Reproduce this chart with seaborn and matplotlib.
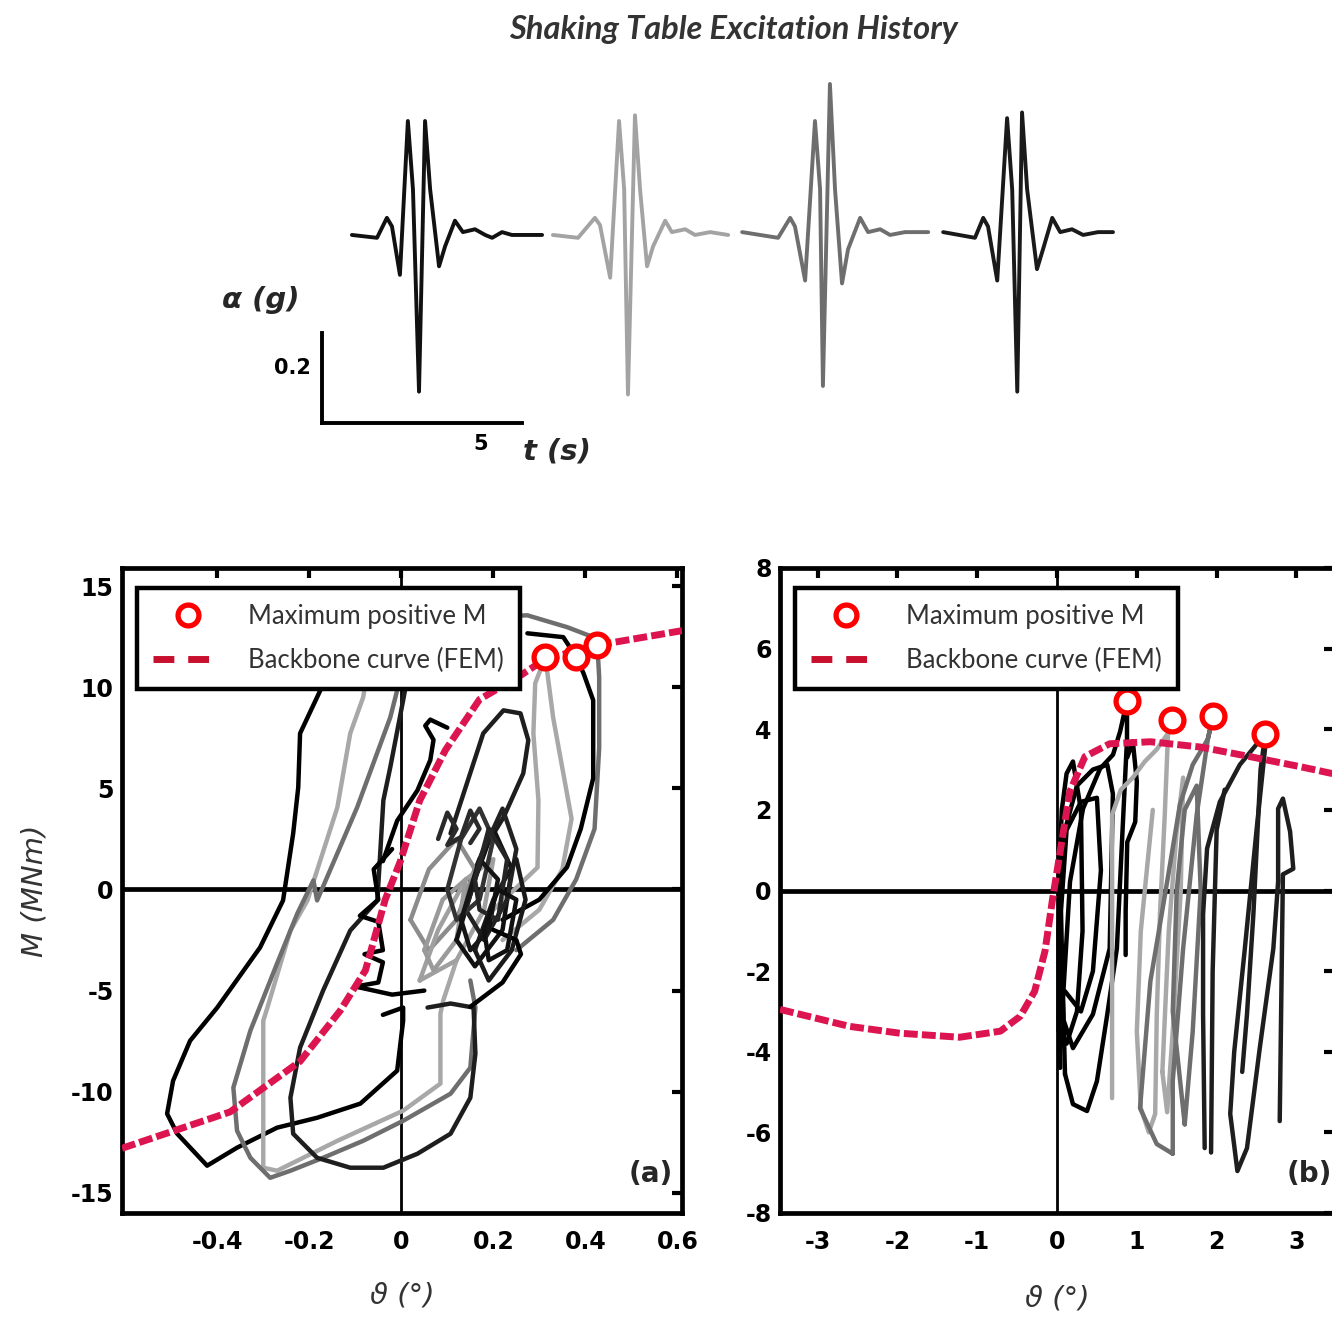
import matplotlib
matplotlib.use("Agg")
import matplotlib.pyplot as plt
import seaborn as sns
import pandas as pd
from matplotlib.lines import Line2D

sns.set_theme(style="white")
plt.rcParams["font.family"] = ["DejaVu Sans"]

# ---------------- data: shaking-table records (t in s, a in g, baseline-relative) -------------
rec1_t = [0.94, 1.73, 2.04, 2.20, 2.45, 2.70, 2.86, 3.05, 3.24, 3.40, 3.68, 3.87, 4.18, 4.43, 4.81, 5.13, 5.35, 5.66, 5.97, 6.38, 6.92]
rec1_a = [0.00, -0.01, 0.06, 0.03, -0.14, 0.40, 0.16, -0.55, 0.40, 0.16, -0.11, -0.04, 0.05, 0.01, 0.02, 0.00, -0.01, 0.01, 0.00, 0.00, 0.00]
rec2_t = [7.26, 8.05, 8.58, 8.74, 9.06, 9.34, 9.50, 9.62, 9.84, 10.00, 10.22, 10.41, 10.79, 11.00, 11.42, 11.73, 12.20, 12.77]
rec2_a = [0.00, -0.01, 0.06, 0.035, -0.15, 0.40, 0.16, -0.56, 0.42, 0.16, -0.11, -0.04, 0.05, 0.01, 0.02, 0.00, 0.01, 0.00]
rec3_t = [13.21, 14.34, 14.72, 14.87, 15.19, 15.50, 15.66, 15.75, 15.97, 16.13, 16.35, 16.54, 16.92, 17.17, 17.55, 17.86, 18.33, 19.06]
rec3_a = [0.01, -0.01, 0.06, 0.03, -0.16, 0.40, 0.16, -0.53, 0.53, 0.16, -0.17, -0.05, 0.06, 0.01, 0.02, 0.00, 0.01, 0.01]
rec4_t = [19.53, 20.53, 20.79, 20.94, 21.23, 21.54, 21.70, 21.86, 22.01, 22.17, 22.48, 22.67, 22.96, 23.21, 23.58, 23.93, 24.40, 24.87]
rec4_a = [0.01, -0.01, 0.06, 0.03, -0.16, 0.41, 0.16, -0.55, 0.43, 0.16, -0.12, -0.05, 0.06, 0.01, 0.02, 0.00, 0.01, 0.01]
rec_colors = ["#111111", "#a3a3a3", "#6e6e6e", "#1a1a1a"]

# ---------------- data: panel (a) moment-rotation loops (theta deg, M MNm) -------------
a1_th = [-0.13, -0.176, -0.220, -0.224, -0.235, -0.257, -0.307, -0.400, -0.459, -0.496, -0.509, -0.487, -0.422, -0.357, -0.270, -0.183, -0.089, -0.009, 0.004, 0.004, -0.04]
a1_M = [12.5, 9.85, 7.72, 5.05, 2.77, -0.54, -2.87, -5.84, -7.48, -9.46, -11.09, -12.08, -13.66, -12.77, -11.78, -11.29, -10.59, -8.96, -6.49, -5.84, -6.2]
a2_th = [0.0, -0.009, -0.024, -0.096, -0.183, -0.191, -0.226, -0.270, -0.328, -0.365, -0.357, -0.328, -0.285, -0.241, -0.170, -0.083, 0.004, 0.107, 0.150, 0.161, 0.15]
a2_M = [12.3, 9.85, 8.51, 4.06, -0.54, 0.45, -1.19, -3.66, -6.98, -9.80, -11.93, -13.27, -14.26, -13.91, -13.27, -12.43, -11.44, -10.10, -8.81, -5.84, -4.5]
a3_th = [-0.06, -0.083, -0.111, -0.139, -0.204, -0.241, -0.291, -0.300, -0.300, -0.270, -0.139, 0.004, 0.085, 0.085, 0.091, 0.12]
a3_M = [12.5, 9.5, 7.72, 4.06, -0.54, -2.03, -5.84, -6.49, -13.76, -13.91, -12.43, -10.94, -9.60, -6.14, -5.50, -3.5]
a4_th = [0.03, 0.004, -0.024, -0.039, -0.052, -0.111, -0.170, -0.220, -0.241, -0.235, -0.183, -0.111, -0.039, 0.035, 0.107, 0.150, 0.161, 0.157, 0.107, 0.057]
a4_M = [12.5, 9.36, 6.04, 4.41, -0.54, -2.03, -5.00, -7.82, -10.30, -12.08, -13.27, -13.76, -13.76, -13.07, -12.08, -10.30, -8.12, -5.84, -5.64, -5.84]
hook_th = [-0.04, -0.009, 0.035, 0.063, 0.07, 0.052, 0.063, 0.10]
hook_M = [1.4, 3.4, 4.9, 6.4, 7.4, 8.1, 8.4, 8.0]
stub_th = [-0.02, -0.06, -0.05, -0.09, -0.05, -0.04, -0.08, -0.04, -0.05, -0.10, -0.02, 0.05]
stub_M = [2.0, 1.0, -0.5, -1.3, -1.6, -3.0, -3.2, -3.6, -4.6, -4.8, -5.2, -5.0]
b1_th = [0.107, 0.178, 0.222, 0.259, 0.276, 0.265, 0.222, 0.178, 0.15]
b1_M = [2.77, 7.72, 8.86, 8.71, 7.38, 5.74, 3.56, 1.93, 0.45]
b2_th = [0.20, 0.296, 0.298, 0.287, 0.291, 0.313, 0.33, 0.35, 0.37, 0.35, 0.30, 0.22]
b2_M = [-1.0, 1.09, 4.41, 7.72, 10.2, 11.49, 8.5, 6.0, 3.5, 1.0, -1.0, -2.5]
b3_th = [0.01, 0.10, 0.274, 0.361, 0.417, 0.426, 0.43, 0.43, 0.42, 0.38, 0.33, 0.25]
b3_M = [12.9, 13.4, 13.56, 12.97, 12.48, 12.1, 10.5, 7.0, 3.0, 0.5, -1.5, -3.0]
b4_th = [0.274, 0.352, 0.38, 0.396, 0.417, 0.417, 0.39, 0.36, 0.30, 0.22]
b4_M = [12.67, 12.48, 11.5, 10.69, 9.36, 5.5, 3.0, 1.1, -0.5, -1.5]
c1_th = [0.02, 0.06, 0.12, 0.16, 0.12, 0.06, 0.02]
c1_M = [-1.5, 1.0, 2.5, 1.0, -1.5, -3.0, -1.5]
c2_th = [0.04, 0.08, 0.14, 0.20, 0.18, 0.12, 0.04]
c2_M = [-4.5, -2.0, 0.5, 1.5, -1.0, -3.5, -4.5]
c3_th = [0.12, 0.16, 0.20, 0.24, 0.22, 0.16, 0.12]
c3_M = [-2.5, 0.5, 3.0, 1.0, -2.0, -3.8, -2.5]
c4_th = [0.14, 0.18, 0.22, 0.25, 0.23, 0.18, 0.14]
c4_M = [-1.0, 2.0, 4.0, 2.0, -0.5, -2.5, -1.0]
c5_th = [0.10, 0.13, 0.17, 0.20, 0.17, 0.12, 0.10]
c5_M = [0.0, 2.5, 4.0, 2.5, -0.5, -1.5, 0.0]
c6_th = [0.16, 0.20, 0.25, 0.27, 0.24, 0.19, 0.16]
c6_M = [-3.0, -0.5, 1.5, -0.5, -3.0, -4.5, -3.0]
c7_th = [0.08, 0.10, 0.12, 0.10, 0.13, 0.15, 0.17, 0.15]
c7_M = [2.5, 3.8, 3.0, 2.2, 2.6, 3.9, 3.0, 2.3]
c8_th = [0.15, 0.22, 0.26, 0.25, 0.20]
c8_M = [-5.8, -4.6, -3.2, -2.5, -2.0]
c9_th = [0.13, 0.17, 0.21, 0.19, 0.15, 0.13]
c9_M = [-1.5, 1.5, 0.5, -2.0, -3.0, -1.5]
c10_th = [0.16, 0.19, 0.23, 0.21, 0.17, 0.16]
c10_M = [0.5, 3.0, 1.5, -1.5, -1.0, 0.5]
c11_th = [0.05, 0.09, 0.14, 0.12, 0.07, 0.05]
c11_M = [-3.0, -0.5, 0.5, -2.5, -4.0, -3.0]
c12_th = [0.18, 0.21, 0.25, 0.23, 0.19, 0.18]
c12_M = [-2.0, 0.0, -0.5, -3.0, -3.5, -2.0]

bb_a_th = [-0.607, -0.372, -0.22, -0.133, -0.078, -0.035, -0.002, 0.04, 0.096, 0.17, 0.26, 0.313, 0.43, 0.61]
bb_a_M = [-12.8, -11.0, -8.5, -6.0, -4.0, -0.5, 1.4, 4.4, 6.9, 9.4, 10.6, 11.4, 12.1, 12.8]
max_a_th = [0.313, 0.38, 0.426]
max_a_M = [11.5, 11.5, 12.1]

# ---------------- data: panel (b) -------------
bk1_th = [0.10, 0.075, 0.163, 0.326, 0.539, 0.702, 0.79, 0.877, 0.877, 0.81, 0.75, 0.63, 0.50, 0.376, 0.2, 0.10]
bk1_M = [-4.55, -2.67, 0.22, 2.03, 3.02, 3.37, 3.94, 4.70, 3.76, 1.04, -1.44, -3.07, -4.73, -5.47, -5.30, -4.55]
bk2_th = [0.04, 0.02, 0.10, 0.25, 0.45, 0.63, 0.70, 0.66, 0.45, 0.20, 0.08, 0.05, 0.12, 0.30, 0.50, 0.55, 0.45, 0.30, 0.10]
bk2_M = [-4.4, -1.0, 1.5, 2.6, 3.0, 3.12, 2.4, -1.44, -3.07, -3.91, -3.2, -0.5, 1.5, 2.2, 2.3, 0.5, -2.0, -3.0, -2.5]
bk3_th = [0.88, 0.95, 1.0, 0.98, 0.88, 0.86, 0.86]
bk3_M = [3.3, 3.7, 2.7, 1.7, 1.2, -0.5, -1.6]
bk4_th = [0.02, 0.03, 0.06, 0.12, 0.2, 0.3, 0.32, 0.25, 0.12, 0.05]
bk4_M = [-3.5, 0.5, 2.0, 2.9, 3.2, 2.0, -1.0, -3.0, -3.8, -3.5]
bl_th = [0.69, 0.69, 0.80, 0.95, 1.10, 1.25, 1.39, 1.44, 1.39, 1.35, 1.29, 1.25, 1.23, 1.15, 1.05, 1.00, 1.05, 1.15, 1.20]
bl_M = [-5.15, 1.88, 2.5, 2.8, 3.2, 3.5, 3.9, 4.23, 3.86, 1.88, -0.59, -3.07, -5.54, -6.0, -5.4, -3.5, -1.0, 1.0, 2.0]
bl2_th = [1.32, 1.40, 1.50, 1.58, 1.55, 1.45, 1.38, 1.32]
bl2_M = [-4.5, -1.0, 1.5, 2.8, 0.0, -3.5, -5.5, -4.5]
bm1_th = [1.45, 1.25, 1.04, 1.17, 1.38, 1.54, 1.70, 1.89, 1.955, 1.89, 1.75, 1.58, 1.45, 1.45]
bm1_M = [-6.53, -6.29, -5.40, -2.25, 0.22, 2.13, 3.12, 3.76, 4.33, 3.76, 1.88, -1.44, -4.73, -6.53]
bm2_th = [1.60, 1.45, 1.50, 1.60, 1.75, 1.80, 1.70, 1.60]
bm2_M = [-5.8, -3.0, 0.0, 2.0, 2.6, 0.0, -3.5, -5.8]
bd1_th = [1.85, 1.83, 1.83, 1.88, 2.04, 2.29, 2.61, 2.55, 2.46, 2.38, 2.32]
bd1_M = [-6.39, -3.07, -0.59, 1.04, 2.2, 3.12, 3.89, 3.0, -0.59, -3.07, -4.5]
bd2_th = [2.61, 2.50, 2.35, 2.22, 2.17, 2.26, 2.38, 2.54, 2.71, 2.77, 2.77, 2.83, 2.92, 2.96, 2.83, 2.79]
bd2_M = [3.6, 1.5, -1.5, -4.0, -5.54, -6.96, -6.39, -3.91, -1.44, 0.22, 2.03, 2.28, 1.46, 0.54, 0.4, -5.72]
bd3_th = [1.93, 1.95, 2.00, 2.10]
bd3_M = [-6.5, -2.0, 1.5, 2.5]

bb_b_th = [-3.47, -2.6, -1.97, -1.22, -0.71, -0.46, -0.28, -0.15, -0.06, 0.04, 0.16, 0.35, 0.66, 1.17, 1.79, 2.42, 3.05, 3.45]
bb_b_M = [-2.95, -3.37, -3.54, -3.64, -3.49, -3.12, -2.5, -1.5, -0.27, 0.97, 2.45, 3.32, 3.64, 3.69, 3.56, 3.32, 3.07, 2.9]
max_b_th = [0.877, 1.44, 1.955, 2.61]
max_b_M = [4.70, 4.23, 4.33, 3.89]

RED = "#dc1450"
W, H = 1332, 1317
fig = plt.figure(figsize=(W / 100, H / 100), dpi=100)

# ---------------- top: excitation history ----------------
ax_t = fig.add_axes([322 / W, 1 - 423 / H, 798 / W, 353 / H])
for t, a, c in zip([rec1_t, rec2_t, rec3_t, rec4_t], [rec1_a, rec2_a, rec3_a, rec4_a], rec_colors):
    sns.lineplot(x=t, y=a, ax=ax_t, color=c, lw=2.8, sort=False, estimator=None)
ax_t.set_xlim(0, 25.09)
ax_t.set_ylim(-0.66, 0.579)
ax_t.axis("off")

ax_s = fig.add_axes([322 / W, 1 - 423 / H, 200 / W, 90 / H])
ax_s.set_facecolor("none")
ax_s.set_xlim(0, 6.29)
ax_s.set_ylim(0, 0.316)
for s in ["top", "right"]:
    ax_s.spines[s].set_visible(False)
for s in ["left", "bottom"]:
    ax_s.spines[s].set_linewidth(2.8)
    ax_s.spines[s].set_color("black")
ax_s.set_xticks([5])
ax_s.set_yticks([0.2])
ax_s.set_xticklabels(["5"], fontweight="bold", fontsize=15)
ax_s.set_yticklabels(["0.2"], fontweight="bold", fontsize=15)
ax_s.tick_params(direction="in", length=5, width=2, pad=8, colors="black")
fig.text(261 / W, 1 - 300 / H, "α (g)", fontsize=21, fontweight="bold", style="italic", ha="center", va="center")
fig.text(557 / W, 1 - 452 / H, "t (s)", fontsize=21, fontweight="bold", style="italic", ha="center", va="center")
fig.text(733 / W, 1 - 30 / H, "Shaking Table Excitation History", fontsize=23.5, style="italic", fontweight="bold",
         color="#333333", ha="center", va="center", family=["Lato", "DejaVu Sans"])

# ---------------- bottom panels ----------------
def style(ax, xl, yl, xt, yt, xtl, ytl):
    ax.set_xlim(*xl)
    ax.set_ylim(*yl)
    ax.set_xticks(xt)
    ax.set_yticks(yt)
    ax.set_xticklabels(xtl, fontweight="bold", fontsize=17)
    ax.set_yticklabels(ytl, fontweight="bold", fontsize=17)
    ax.tick_params(direction="in", length=7, width=3, top=True, right=True, colors="black")
    ax.tick_params(axis="x", pad=12)
    ax.tick_params(axis="y", pad=6)
    for s in ax.spines.values():
        s.set_linewidth(3.4)
        s.set_color("black")
    ax.axhline(0, color="black", lw=3.4, zorder=1)
    ax.axvline(0, color="black", lw=2.0, zorder=1)


def draw(ax, th, M, c, lw=3.2, z=2):
    sns.lineplot(x=th, y=M, ax=ax, color=c, lw=lw, sort=False, estimator=None, zorder=z)


axa = fig.add_axes([122 / W, 1 - 1213 / H, 560 / W, 645 / H])
C1, C2, C3, C4 = "#000000", "#a8a8a8", "#6e6e6e", "#1e1e1e"
for th, M, c in [(a1_th, a1_M, C1), (a3_th, a3_M, C2), (a2_th, a2_M, C3), (a4_th, a4_M, C4),
                 (hook_th, hook_M, C1), (stub_th, stub_M, C1), (b1_th, b1_M, C4),
                 (b2_th, b2_M, C2), (b3_th, b3_M, C3), (b4_th, b4_M, C1),
                 (c1_th, c1_M, "#8c8c8c"), (c2_th, c2_M, "#a0a0a0"), (c11_th, c11_M, "#9a9a9a"),
                 (c3_th, c3_M, "#111111"), (c4_th, c4_M, "#222222"), (c5_th, c5_M, "#333333"),
                 (c6_th, c6_M, "#1a1a1a"), (c7_th, c7_M, "#2a2a2a"), (c8_th, c8_M, C1),
                 (c9_th, c9_M, "#151515"), (c10_th, c10_M, "#252525"), (c12_th, c12_M, "#101010")]:
    draw(axa, th, M, c)
sns.lineplot(x=bb_a_th, y=bb_a_M, ax=axa, color=RED, lw=5, sort=False, estimator=None, zorder=4)
axa.lines[-1].set_dashes((2.0, 0.6))
sns.scatterplot(x=max_a_th, y=max_a_M, ax=axa, s=270, marker="o", facecolor="white",
                edgecolor="red", linewidth=3.8, zorder=5)
style(axa, (-0.607, 0.61), (-16.0, 15.9), [-0.4, -0.2, 0, 0.2, 0.4, 0.6], [-15, -10, -5, 0, 5, 10, 15],
      ["-0.4", "-0.2", "0", "0.2", "0.4", "0.6"], ["-15", "-10", "-5", "0", "5", "10", "15"])
axa.text(0.945, 0.06, "(a)", transform=axa.transAxes, fontsize=20, fontweight="bold", ha="center", va="center")
axa.set_ylabel("M (MNm)", fontsize=21, style="italic", color="#333333", labelpad=16)
axa.set_xlabel("ϑ (°)", fontsize=21, style="italic", color="#333333", labelpad=20)

axb = fig.add_axes([780 / W, 1 - 1213 / H, 554 / W, 645 / H])
for th, M, c in [(bk2_th, bk2_M, C1), (bk4_th, bk4_M, C1), (bk1_th, bk1_M, C1), (bk3_th, bk3_M, C1),
                 (bl_th, bl_M, C2), (bl2_th, bl2_M, C2), (bm2_th, bm2_M, C3), (bm1_th, bm1_M, C3),
                 (bd3_th, bd3_M, C4), (bd1_th, bd1_M, C4), (bd2_th, bd2_M, C4)]:
    draw(axb, th, M, c)
sns.lineplot(x=bb_b_th, y=bb_b_M, ax=axb, color=RED, lw=5, sort=False, estimator=None, zorder=4)
axb.lines[-1].set_dashes((2.0, 0.6))
sns.scatterplot(x=max_b_th, y=max_b_M, ax=axb, s=270, marker="o", facecolor="white",
                edgecolor="red", linewidth=3.8, zorder=5)
style(axb, (-3.47, 3.47), (-8, 8), [-3, -2, -1, 0, 1, 2, 3], [-8, -6, -4, -2, 0, 2, 4, 6, 8],
      ["-3", "-2", "-1", "0", "1", "2", "3"], ["-8", "-6", "-4", "-2", "0", "2", "4", "6", "8"])
axb.text(0.955, 0.06, "(b)", transform=axb.transAxes, fontsize=20, fontweight="bold", ha="center", va="center")
axb.set_xlabel("ϑ (°)", fontsize=21, style="italic", color="#333333", labelpad=22)
axb.set_ylabel("")

for ax in (axa, axb):
    h = [Line2D([], [], ls="none", marker="o", ms=15, mfc="white", mec="red", mew=3.8),
         Line2D([], [], color="#c8102e", lw=5, dashes=(3.0, 2.0))]
    leg = ax.legend(h, ["Maximum positive M", "Backbone curve (FEM)"], loc="upper left",
                    bbox_to_anchor=(0.027, 0.969), borderaxespad=0, frameon=True, fancybox=False,
                    framealpha=1, edgecolor="black", handlelength=2.7, handletextpad=1.0,
                    borderpad=0.62, labelspacing=0.75, prop={"family": ["Lato", "DejaVu Sans"], "size": 18.5})
    leg.get_frame().set_linewidth(3.2)
    for t in leg.get_texts():
        t.set_color("#333333")
    leg.set_zorder(10)

fig.savefig("out.png", dpi=100)
